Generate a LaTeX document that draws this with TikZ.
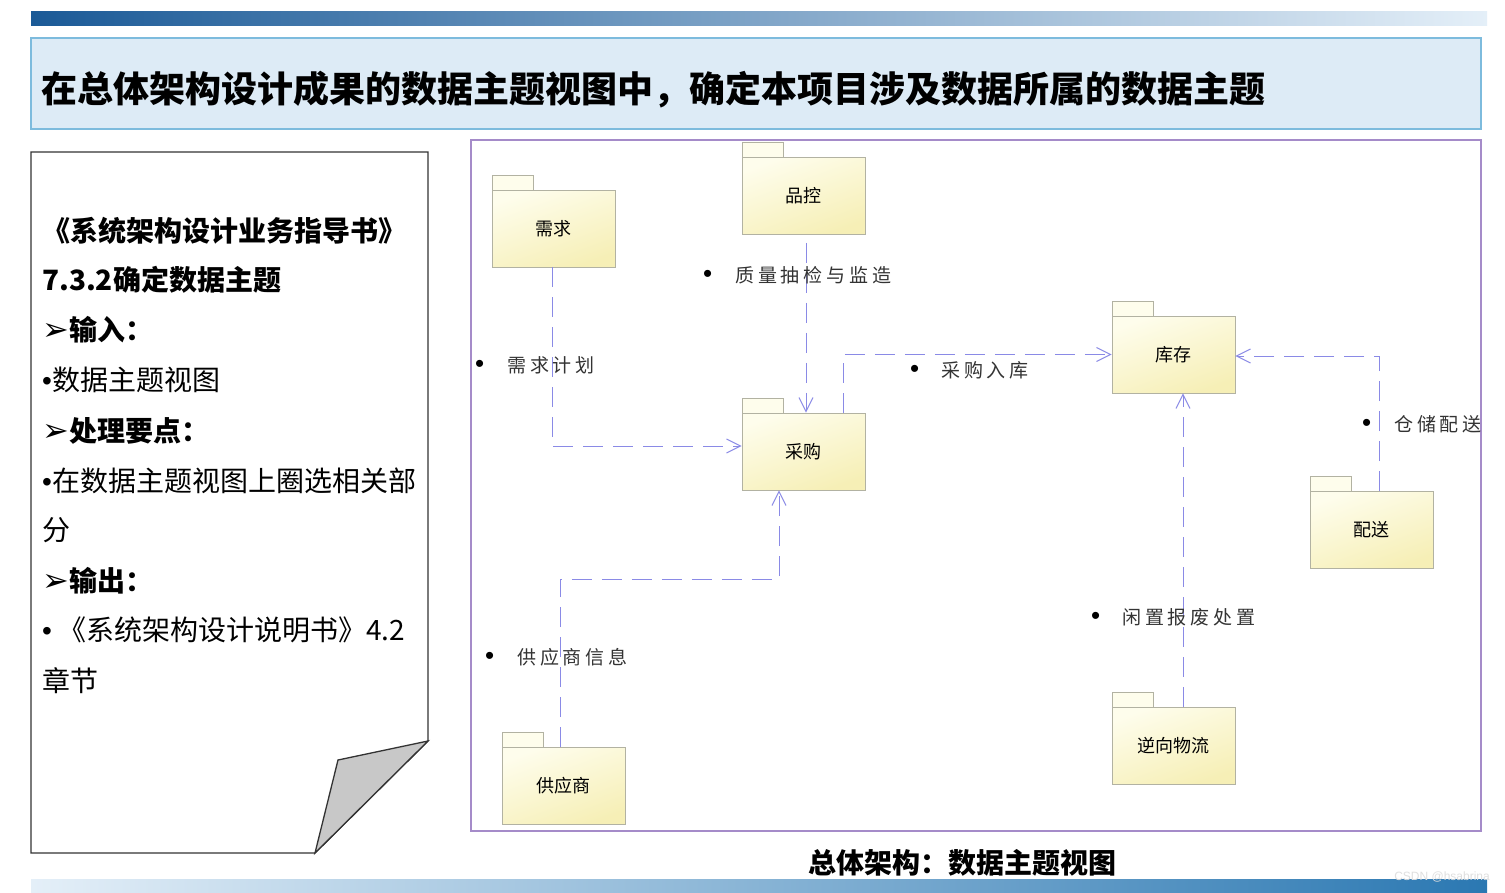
\documentclass[tikz,border=0pt]{standalone}
\usepackage{fontspec}
\setmainfont{Noto Sans CJK SC}
\newfontfamily\latinf{Liberation Sans}
\newfontfamily\lblfont[LetterSpace=20]{Noto Sans CJK SC}
\newfontfamily\symf{DejaVu Sans}
\usepackage{tikz}
\usetikzlibrary{positioning, arrows.meta}

\definecolor{barDark}{HTML}{1B5A97}
\definecolor{barMid}{HTML}{7DB1D6}
\definecolor{barLight}{HTML}{E4EFF8}
\definecolor{barDeep}{HTML}{2B78B2}
\definecolor{headFill}{HTML}{DDEBF6}
\definecolor{headLine}{HTML}{7DBBDD}
\definecolor{frameLine}{HTML}{A58BC9}
\definecolor{pkgTop}{HTML}{FEFDEC}
\definecolor{pkgBot}{HTML}{F6EFB6}
\definecolor{pkgLine}{HTML}{B2B2A2}
\definecolor{depLine}{HTML}{8A8AE6}
\definecolor{foldGray}{HTML}{C8C8C8}

\newcommand{\blt}{{\latinf •}}
\newcommand{\lblt}{{\latinf\fontsize{26}{20}\selectfont\color{black}•}}

\tikzset{
  pkg/.style={draw=pkgLine, line width=0.8pt, top color=pkgTop, bottom color=pkgBot,
    shading angle=20, minimum width=123pt, minimum height=77pt, inner sep=0pt,
    font=\fontsize{18}{20}\selectfont},
  pkgtab/.style={draw=pkgLine, line width=0.8pt, fill=pkgTop},
  dep/.style={draw=depLine, line width=1pt, dash pattern=on 20pt off 10pt,
    -{Straight Barb[length=14pt,width=14pt,line width=1pt]}},
  lbl/.style={anchor=west, inner sep=0pt, text=black!80, font=\fontsize{19}{20}\selectfont},
  docline/.style={anchor=west, inner sep=0pt, font=\fontsize{28}{30}\selectfont}
}

\begin{document}
\begin{tikzpicture}[x=1pt,y=-1pt]
	\useasboundingbox (0,0) rectangle (1505,892);
	\fill[white] (0,0) rectangle (1505,892);
	
	% 顶部和底部渐变色条
	\shade[left color=barDark, middle color=barMid, right color=barLight] (31,11) rectangle (1487,25);
	\shade[left color=barLight, middle color=barMid, right color=barDeep] (31,879) rectangle (1487,892);
	
	% 标题栏
	\draw[headLine, line width=1.2pt, fill=headFill] (31,38) rectangle (1481,129);
	\node[anchor=west, inner sep=0pt, font=\fontsize{36}{40}\selectfont\bfseries] (title) at (41,90)
		{在总体架构设计成果的数据主题视图中，确定本项目涉及数据所属的数据主题};
	
	% 左侧文档（右下角折页）
	\draw[black!80, line width=1.3pt, fill=white] (31,152) -- (428,152) -- (428,741) -- (315,853) -- (31,853) -- cycle;
	\draw[black!80, line width=1.3pt, fill=foldGray] (428,741) -- (338,760) -- (315,853) -- cycle;
	\foreach \y/\t [count=\i] in {
		231/{\bfseries 《系统架构设计业务指导书》},
		280/{\bfseries 7.3.2确定数据主题},
		330/{{\symf\bfseries\fontsize{32}{30}\selectfont ➢}\bfseries 输入：},
		380/{\blt 数据主题视图},
		431/{{\symf\bfseries\fontsize{32}{30}\selectfont ➢}\bfseries 处理要点：},
		481/{\blt 在数据主题视图上圈选相关部},
		530/{分},
		581/{{\symf\bfseries\fontsize{32}{30}\selectfont ➢}\bfseries 输出：},
		630/{\blt\ 《系统架构设计说明书》4.2},
		681/{章节}}
		\node[docline] (doc\i) at (42,\y) {\t};
	
	% 右侧数据主题视图外框
	\draw[frameLine, line width=1.5pt] (471,140) rectangle (1481,831);
	
	% 数据主题包（主体 + 左上角标签）
	\foreach \n/\x/\y/\t in {
		xq/553.5/228.5/需求, pk/803.5/196/品控, cg/803.5/451.5/采购,
		kc/1173.5/354.5/库存, ps/1371.5/530/配送, nx/1173.5/745.5/逆向物流,
		gys/563.5/786/供应商} {
		\draw[pkgtab] (\x-61.5,\y-38.5) rectangle ++(41,-15);
		\node[pkg] (\n) at (\x,\y) {\t};
	}
	
	% 依赖关系（虚线）
	\draw[dep] ([xshift=-1.5pt]xq.south) |- ([yshift=5.5pt]cg.west);
	\draw[dep] ([xshift=2.5pt,yshift=-8pt]pk.south) -- ([xshift=2.5pt]cg.north);
	\draw[dep] ([xshift=39.5pt]cg.north) |- (kc.west);
	\draw[dep] ([xshift=7.5pt]ps.north) |- ([yshift=-1.5pt]kc.east);
	\draw[dep] ([xshift=9.5pt]nx.north) -- ([xshift=9.5pt]kc.south);
	\coordinate (gyturn) at (779,579);
	\draw[dep] ([xshift=-3.5pt]gys.north) |- (gyturn) -- ([xshift=-24.5pt]cg.south);
	
	% 关系说明
	\node[lbl] (lxq)  at (475,365)  {\lblt\hspace{23pt}{\lblfont 需求计划}};
	\node[lbl] (lpk)  at (703,275)  {\lblt\hspace{23pt}{\lblfont 质量抽检与监造}};
	\node[lbl] (lcg)  at (910,370)  {\lblt\hspace{22pt}{\lblfont 采购入库}};
	\node[lbl] (lps)  at (1362,424) {\lblt\hspace{23pt}{\lblfont 仓储配送}};
	\node[lbl] (lnx)  at (1091,617) {\lblt\hspace{22pt}{\lblfont 闲置报废处置}};
	\node[lbl] (lgys) at (485,657)  {\lblt\hspace{23pt}{\lblfont 供应商信息}};
	
	% 图名与水印
	\node[anchor=west, inner sep=0pt, font=\fontsize{28}{30}\selectfont\bfseries] (cap) at (808,863) {总体架构：数据主题视图};
	\node[anchor=east, inner sep=0pt, text=white!75!gray, font=\latinf\fontsize{12}{14}\selectfont] (mark) at (1490,877) {CSDN @hsabrina};
\end{tikzpicture}
\end{document}
